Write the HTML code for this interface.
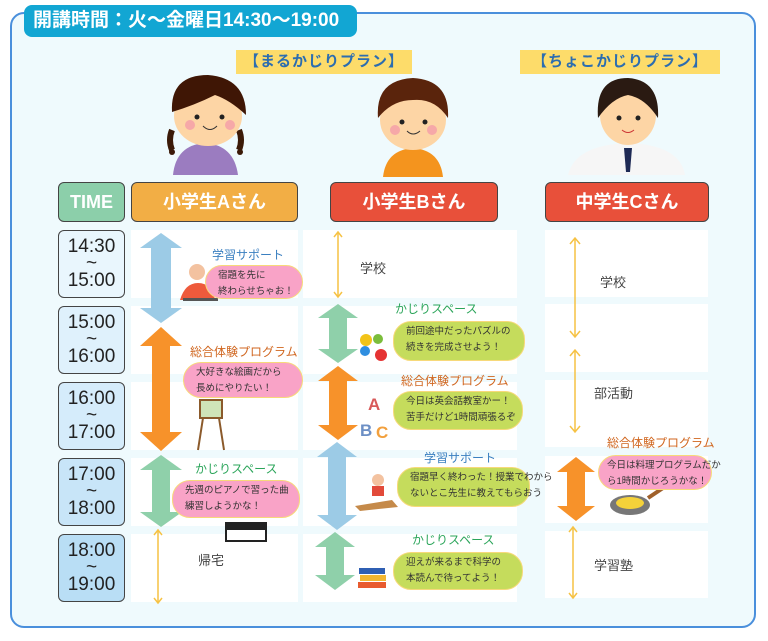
<!DOCTYPE html>
<html><head><meta charset="utf-8"><style>
*{margin:0;padding:0;box-sizing:border-box}
body{width:768px;height:641px;background:#fff;position:relative;overflow:hidden;font-family:"Liberation Sans","Noto Sans CJK JP",sans-serif}
.a{position:absolute}
.panel{left:10px;top:12px;width:746px;height:616px;border:2px solid #4a8fdc;border-radius:14px;background:#effafd}
.tab{left:24px;top:5px;width:333px;height:32px;background:#12a6d3;border-radius:8px;color:#fff;font-size:19px;font-weight:bold;line-height:32px;padding-left:9px;white-space:nowrap}
.plan{background:#fddc6a;color:#2c6db0;font-size:15px;font-weight:bold;line-height:24px;text-align:center;letter-spacing:1px}
.hd{border:1.5px solid #444;border-radius:6px;color:#fff;font-weight:bold;font-size:18px;text-align:center;line-height:38px}
.tm{border:1.5px solid #444;border-radius:6px;font-size:19px;text-align:center;line-height:17px;padding-top:7px;color:#222;background:#e9f6fd}
.cell{background:#fff}
.lb{font-size:12px;white-space:nowrap}
.bb{border:1.5px solid #f7d97a;border-radius:18px;font-size:9.5px;line-height:16px;padding:2px 0 0 12px;color:#333;white-space:nowrap}
.pk{background:#f9a3c7}.gr{background:#c5dc5c}
.tx{font-size:13px;color:#444}
</style></head><body>
<div class="a panel"></div>
<div class="a tab">開講時間：火〜金曜日14:30〜19:00</div>
<div class="a plan" style="left:236px;top:50px;width:176px">【まるかじりプラン】</div>
<div class="a plan" style="left:520px;top:50px;width:200px">【ちょこかじりプラン】</div>

<svg class="a" style="left:0;top:0" width="768" height="641">
<path d="M173 175 Q176 145 205 143 Q234 145 238 175Z" fill="#9b7cc0"/>
<path d="M172 130 Q168 140 172 150 M239 130 Q243 140 239 150" stroke="#3b1a08" stroke-width="6" fill="none"/>
<circle cx="172" cy="152" r="3" fill="#3b1a08"/><circle cx="240" cy="152" r="3" fill="#3b1a08"/>
<ellipse cx="208" cy="116" rx="34" ry="30" fill="#fdd5a5"/>
<path d="M172 112 Q170 75 208 75 Q246 78 246 115 Q230 100 215 95 Q195 105 172 112Z" fill="#3f1605"/>
<circle cx="197" cy="117" r="2.5" fill="#222"/><circle cx="222" cy="117" r="2.5" fill="#222"/>
<circle cx="190" cy="125" r="5" fill="#f6a8a8"/><circle cx="230" cy="125" r="5" fill="#f6a8a8"/>
<path d="M203 126 Q210 133 217 126" stroke="#333" fill="none"/>
<path d="M383 177 Q386 150 413 148 Q440 150 443 177Z" fill="#f4941e"/>
<ellipse cx="413" cy="120" rx="33" ry="30" fill="#fdd5a5"/>
<path d="M378 118 Q375 80 413 78 Q450 80 448 118 Q435 98 413 100 Q392 100 378 118Z" fill="#5a240c"/>
<circle cx="402" cy="122" r="2.5" fill="#222"/><circle cx="425" cy="122" r="2.5" fill="#222"/>
<circle cx="395" cy="130" r="5" fill="#f6a8a8"/><circle cx="432" cy="130" r="5" fill="#f6a8a8"/>
<path d="M407 131 Q413 137 420 131" stroke="#333" fill="none"/>
<path d="M568 175 Q575 145 628 143 Q680 145 685 175Z" fill="#f6f6f6"/>
<path d="M624 148 L632 148 L630 172 L626 172Z" fill="#1e2a55"/>
<ellipse cx="628" cy="115" rx="28" ry="30" fill="#fdd5a5"/>
<path d="M598 118 Q595 78 628 78 Q660 80 658 118 Q645 98 628 95 Q612 98 598 118Z" fill="#2a1a12"/>
<circle cx="619" cy="118" r="2.5" fill="#222"/><circle cx="638" cy="118" r="2.5" fill="#222"/>
<path d="M622 130 Q628 135 634 130" stroke="#c33" fill="none"/>
</svg>

<div class="a hd" style="left:58px;top:182px;width:67px;height:40px;background:#8ccfaa">TIME</div>
<div class="a hd" style="left:131px;top:182px;width:167px;height:40px;background:#f2ae45">小学生Aさん</div>
<div class="a hd" style="left:330px;top:182px;width:168px;height:40px;background:#e8503a">小学生Bさん</div>
<div class="a hd" style="left:545px;top:182px;width:164px;height:40px;background:#e8503a">中学生Cさん</div>

<div class="a tm" style="left:58px;top:230px;width:67px;height:68px">14:30<br>~<br>15:00</div>
<div class="a tm" style="left:58px;top:306px;width:67px;height:68px;background:#dff1fc">15:00<br>~<br>16:00</div>
<div class="a tm" style="left:58px;top:382px;width:67px;height:68px;background:#d5ecfb">16:00<br>~<br>17:00</div>
<div class="a tm" style="left:58px;top:458px;width:67px;height:68px;background:#c8e5f8">17:00<br>~<br>18:00</div>
<div class="a tm" style="left:58px;top:534px;width:67px;height:68px;background:#b9def5">18:00<br>~<br>19:00</div>

<div class="a cell" style="left:131px;top:230px;width:167px;height:68px"></div>
<div class="a cell" style="left:131px;top:306px;width:167px;height:68px"></div>
<div class="a cell" style="left:131px;top:382px;width:167px;height:68px"></div>
<div class="a cell" style="left:131px;top:458px;width:167px;height:68px"></div>
<div class="a cell" style="left:131px;top:534px;width:167px;height:68px"></div>
<div class="a cell" style="left:303px;top:230px;width:214px;height:68px"></div>
<div class="a cell" style="left:303px;top:306px;width:214px;height:68px"></div>
<div class="a cell" style="left:303px;top:382px;width:214px;height:68px"></div>
<div class="a cell" style="left:303px;top:458px;width:214px;height:68px"></div>
<div class="a cell" style="left:303px;top:534px;width:214px;height:68px"></div>
<div class="a cell" style="left:545px;top:230px;width:163px;height:67px"></div>
<div class="a cell" style="left:545px;top:304px;width:163px;height:68px"></div>
<div class="a cell" style="left:545px;top:380px;width:163px;height:67px"></div>
<div class="a cell" style="left:545px;top:456px;width:163px;height:67px"></div>
<div class="a cell" style="left:545px;top:531px;width:163px;height:67px"></div>

<svg class="a" style="left:0;top:0" width="768" height="641">
<polygon points="161,233 182,248 171,248 171,308 182,308 161,323 140,308 151,308 151,248 140,248" fill="#9ccbe6"/>
<polygon points="161,327 182,346 170,346 170,432 182,432 161,451 140,432 152,432 152,346 140,346" fill="#f7922a"/>
<polygon points="161,455 182,470 170,470 170,512 182,512 161,527 140,512 152,512 152,470 140,470" fill="#8fd0aa"/>
<g stroke="#f6c244" stroke-width="1.5" fill="none">
<path d="M158 530 V603 M154 535 L158 530 L162 535 M154 598 L158 603 L162 598"/>
<path d="M338 232 V297 M334 237 L338 232 L342 237 M334 292 L338 297 L342 292"/>
<path d="M575 238 V337 M570 244 L575 238 L580 244 M570 331 L575 337 L580 331"/>
<path d="M575 350 V432 M570 356 L575 350 L580 356 M570 426 L575 432 L580 426"/>
<path d="M573 527 V598 M569 532 L573 527 L577 532 M569 593 L573 598 L577 593"/>
</g>
<polygon points="338,304 358,318 347,318 347,349 358,349 338,363 318,349 329,349 329,318 318,318" fill="#8fd0aa"/>
<polygon points="338,366 358,381 347,381 347,425 358,425 338,440 318,425 329,425 329,381 318,381" fill="#f7922a"/>
<polygon points="337,442 357,457 346,457 346,515 357,515 337,530 317,515 328,515 328,457 317,457" fill="#9ccbe6"/>
<polygon points="335,532 355,547 344,547 344,575 355,575 335,590 315,575 326,575 326,547 315,547" fill="#8fd0aa"/>
<polygon points="576,457 595,472 585,472 585,506 595,506 576,521 557,506 567,506 567,472 557,472" fill="#f7922a"/>
<circle cx="197" cy="272" r="8" fill="#f3c2a0"/><path d="M180 300 Q185 283 198 283 Q212 283 215 300Z" fill="#ee5a3c"/>
<rect x="183" y="298" width="35" height="3" fill="#555"/>
<rect x="200" y="400" width="22" height="18" fill="#cfe4b8" stroke="#8b5a2b" stroke-width="2"/><path d="M203 418 L198 450 M219 418 L224 450" stroke="#8b5a2b" stroke-width="2"/>
<rect x="225" y="522" width="42" height="20" fill="#222"/><rect x="227" y="530" width="38" height="10" fill="#fff"/>
<circle cx="366" cy="340" r="6" fill="#f2c318"/><circle cx="378" cy="339" r="5" fill="#7bbd3b"/><circle cx="365" cy="351" r="5" fill="#2f8ee0"/><circle cx="381" cy="355" r="6" fill="#e53333"/>
<text x="368" y="410" font-size="17" font-weight="bold" fill="#d85a5a" font-family="Liberation Sans">A</text>
<text x="360" y="436" font-size="17" font-weight="bold" fill="#6c8fc5" font-family="Liberation Sans">B</text>
<text x="376" y="438" font-size="17" font-weight="bold" fill="#f2a03d" font-family="Liberation Sans">C</text>
<circle cx="378" cy="480" r="6" fill="#f3c2a0"/><rect x="372" y="486" width="12" height="10" fill="#e24a3a"/><path d="M355 506 L392 500 L398 507 L360 511Z" fill="#c58a4a"/>
<rect x="359" y="568" width="26" height="6" fill="#2f5fb3"/><rect x="360" y="575" width="26" height="6" fill="#f2b630"/><rect x="358" y="582" width="28" height="6" fill="#e85b2f"/>
<ellipse cx="630" cy="505" rx="20" ry="10" fill="#777"/><ellipse cx="630" cy="503" rx="14" ry="6" fill="#f4d23a"/><path d="M648 498 L663 488" stroke="#a0612b" stroke-width="4"/>
</svg>

<div class="a tx" style="left:198px;top:550px">帰宅</div>
<div class="a tx" style="left:360px;top:258px">学校</div>
<div class="a tx" style="left:600px;top:272px">学校</div>
<div class="a tx" style="left:594px;top:383px">部活動</div>
<div class="a tx" style="left:594px;top:555px">学習塾</div>

<div class="a lb" style="left:212px;top:246px;color:#3a7fc0">学習サポート</div>
<div class="a bb pk" style="left:205px;top:265px;width:98px;height:34px">宿題を先に<br>終わらせちゃお！</div>
<div class="a lb" style="left:190px;top:343px;color:#d0661f">総合体験プログラム</div>
<div class="a bb pk" style="left:183px;top:362px;width:120px;height:36px">大好きな絵画だから<br>長めにやりたい！</div>
<div class="a lb" style="left:195px;top:460px;color:#2ba55a">かじりスペース</div>
<div class="a bb pk" style="left:172px;top:480px;width:128px;height:38px">先週のピアノで習った曲<br>練習しようかな！</div>

<div class="a lb" style="left:395px;top:300px;color:#2ba55a">かじりスペース</div>
<div class="a bb gr" style="left:393px;top:321px;width:132px;height:40px">前回途中だったパズルの<br>続きを完成させよう！</div>
<div class="a lb" style="left:401px;top:372px;color:#d0661f">総合体験プログラム</div>
<div class="a bb gr" style="left:393px;top:391px;width:130px;height:39px">今日は英会話教室かー！<br>苦手だけど1時間頑張るぞ</div>
<div class="a lb" style="left:424px;top:449px;color:#3a7fc0">学習サポート</div>
<div class="a bb gr" style="left:397px;top:467px;width:133px;height:40px">宿題早く終わった！授業でわから<br>ないとこ先生に教えてもらおう</div>
<div class="a lb" style="left:412px;top:531px;color:#2ba55a">かじりスペース</div>
<div class="a bb gr" style="left:393px;top:552px;width:130px;height:38px">迎えが来るまで科学の<br>本読んで待ってよう！</div>

<div class="a lb" style="left:607px;top:434px;color:#d0661f">総合体験プログラム</div>
<div class="a bb pk" style="left:598px;top:455px;width:114px;height:35px;padding-left:8px">今日は料理プログラムだか<br>ら1時間かじろうかな！</div>
</body></html>
